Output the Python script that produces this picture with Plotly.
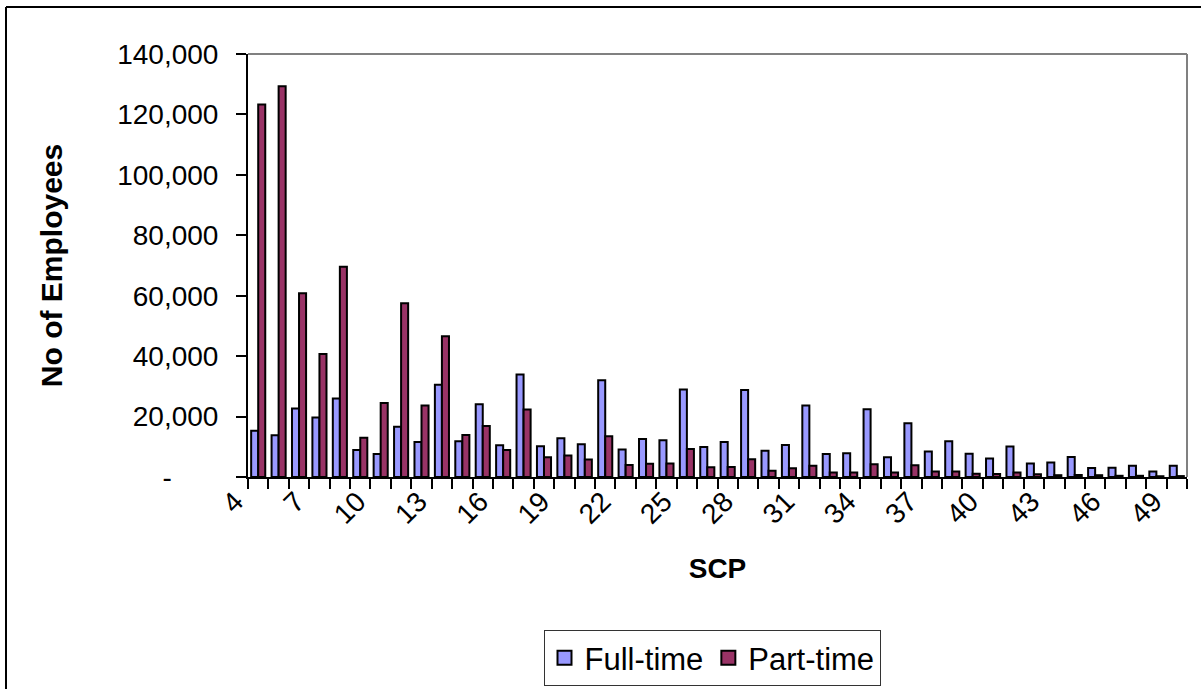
import plotly.graph_objects as go

# Spinal column points and head counts
scp = list(range(4, 50))
full_time = [15300, 13800, 22700, 19700, 26000, 8900, 7600, 16600, 11600, 30500,
             11800, 24100, 10500, 33900, 10200, 12800, 10800, 32000, 9100, 12600,
             12200, 29000, 9900, 11600, 28800, 8700, 10600, 23700, 7600, 7900,
             22400, 6500, 17800, 8400, 11800, 7700, 6100, 10100, 4500, 4800,
             6600, 3000, 3100, 3700, 1800, 3700]
part_time = [123300, 129300, 60800, 40700, 69600, 13000, 24500, 57500, 23700, 46600,
             13900, 16900, 8900, 22300, 6500, 7100, 5800, 13500, 4000, 4400,
             4500, 9300, 3200, 3300, 5900, 2100, 2900, 3700, 1500, 1500,
             4200, 1500, 3900, 1800, 1800, 1100, 1000, 1500, 900, 600,
             700, 600, 400, 400, 250, 300]

series_names = ["Full-time", "Part-time"]
series_colors = ["#9999FF", "#993366"]

x_tick_vals = list(range(4, 50, 3))
y_tick_vals = list(range(0, 140001, 20000))
y_tick_text = ["-" + "\u00a0" * 6] + [f"{v:,}" for v in y_tick_vals[1:]]

FONT = "Liberation Sans, Arial, sans-serif"

fig = go.Figure()
for name, color, values in zip(series_names, series_colors, [full_time, part_time]):
    fig.add_trace(go.Bar(x=scp, y=values, name=name, showlegend=False,
                         marker=dict(color=color, line=dict(color="black", width=2))))
# square legend keys
for name, color in zip(series_names, series_colors):
    fig.add_trace(go.Scatter(x=[None], y=[None], mode="markers", name=name,
                             marker=dict(symbol="square", size=14, color=color,
                                         line=dict(color="black", width=2))))

W, H = 1201, 689
ML, MR, MT, MB = 248, 14, 54, 212
PW, PH = W - ML - MR, H - MT - MB


def px(x):
    return (x - ML) / PW


def py(y):
    return (H - MB - y) / PH


shapes = [
    # grey plot-area border on top and right
    dict(type="line", xref="paper", yref="paper", x0=0, x1=1, y0=1, y1=1,
         line=dict(color="#808080", width=2)),
    dict(type="line", xref="paper", yref="paper", x0=1, x1=1, y0=0, y1=1,
         line=dict(color="#808080", width=2)),
    # outer chart frame
    dict(type="line", xref="paper", yref="paper", x0=px(6), x1=px(6), y0=py(7), y1=py(700),
         line=dict(color="black", width=2)),
    dict(type="line", xref="paper", yref="paper", x0=px(6), x1=px(1210), y0=py(7), y1=py(7),
         line=dict(color="black", width=2)),
]

fig.update_layout(
    width=W, height=H,
    margin=dict(l=ML, r=MR, t=MT, b=MB, autoexpand=False),
    paper_bgcolor="white", plot_bgcolor="white",
    font=dict(family=FONT, size=28, color="black"),
    barmode="group", bargap=0.31, bargroupgap=0,
    showlegend=True,
    legend=dict(orientation="h", x=px(712), xanchor="center", y=py(686), yanchor="bottom",
                bordercolor="#333333", borderwidth=1, font=dict(size=31),
                itemclick=False, tracegroupgap=0),
    shapes=shapes,
    xaxis=dict(
        range=[3.5, 49.5], tickmode="array", tickvals=x_tick_vals,
        ticktext=[str(v) for v in x_tick_vals], tickangle=-45,
        ticks="", showline=True, linecolor="black", linewidth=2, showgrid=False,
        zeroline=False, automargin=False, ticklabelshift=-23, ticklabelstandoff=-5,
        minor=dict(tick0=3.5, dtick=1, ticks="outside", ticklen=10,
                   tickcolor="black", tickwidth=1.5, showgrid=False),
        title=dict(text="<b>SCP</b>", standoff=30, font=dict(size=28)),
    ),
    yaxis=dict(
        range=[0, 140000], tickmode="array", tickvals=y_tick_vals, ticktext=y_tick_text,
        ticks="outside", ticklen=10, tickwidth=1.5, tickcolor="black",
        showline=True, linecolor="black", linewidth=2, showgrid=False, zeroline=False,
        ticklabelstandoff=12, automargin=False,
        title=dict(text="<b>No of Employees</b>", standoff=46, font=dict(size=30)),
    ),
)

fig.write_html("out.html")
